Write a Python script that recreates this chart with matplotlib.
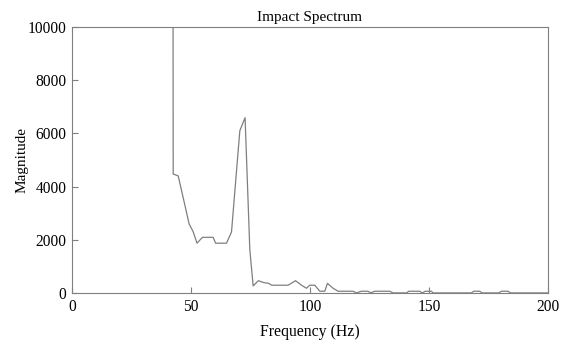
import matplotlib
matplotlib.use("Agg")
import matplotlib.pyplot as plt

plt.rcParams['font.family'] = ['Liberation Serif', 'DejaVu Serif']

freq = [40.5, 42.6, 44.7, 47.0, 49.3, 51.0, 52.6, 54.9, 57.1, 59.4, 60.4, 62.7, 65.0,
        67.1, 70.6, 72.8, 74.8, 76.2, 78.4, 80.6, 82.7, 84.0, 86.3, 88.6, 90.9, 94.0,
        96.5, 98.6, 100.0, 102.1, 104.2, 106.3, 107.4, 109.8, 111.9, 114.0, 116.1, 118.2,
        119.6, 121.7, 124.5, 125.5, 127.3, 129.4, 131.5, 133.6, 135.0, 137.8, 140.6,
        141.6, 143.9, 146.2, 147.2, 148.6, 151.1, 151.8, 155.0, 160.0, 164.0, 167.9,
        168.9, 171.4, 172.4, 176.0, 179.4, 180.5, 183.3, 184.3, 190.0, 195.0, 200.0]
mag = [200000, 4470, 4400, 3500, 2590, 2300, 1870, 2090, 2090, 2090, 1870, 1870, 1870,
       2290, 6100, 6590, 1620, 263, 460, 390, 360, 290, 290, 290, 290, 460,
       290, 175, 290, 290, 63, 63, 360, 175, 63, 63, 63, 63,
       0, 63, 63, 0, 63, 63, 63, 63, 0, 0, 0,
       63, 63, 63, 0, 63, 63, 0, 0, 0, 0, 0,
       63, 63, 0, 0, 0, 63, 63, 0, 0, 0, 0]

fig, ax = plt.subplots(figsize=(5.7, 3.41), dpi=100)
fig.subplots_adjust(left=0.126, right=0.961, top=0.921, bottom=0.141)

ax.plot(freq, mag, color='#7f7f7f', lw=0.9)
ax.set_xlim(0, 200)
ax.set_ylim(0, 10000)
ax.set_xticks([0, 50, 100, 150, 200])
ax.set_yticks([0, 2000, 4000, 6000, 8000, 10000])

for s in ax.spines.values():
    s.set_color('#7f7f7f')
    s.set_linewidth(0.8)
ax.tick_params(direction='in', color='#7f7f7f', labelsize=11.2, length=4)
ax.tick_params(axis='x', pad=4.5)
ax.tick_params(axis='y', pad=4)

ax.set_title('Impact Spectrum', fontsize=11, pad=4)
ax.set_xlabel('Frequency (Hz)', fontsize=11.3, labelpad=6)
ax.set_ylabel('Magnitude', fontsize=11, labelpad=-1)

fig.savefig('out.png', dpi=100)
